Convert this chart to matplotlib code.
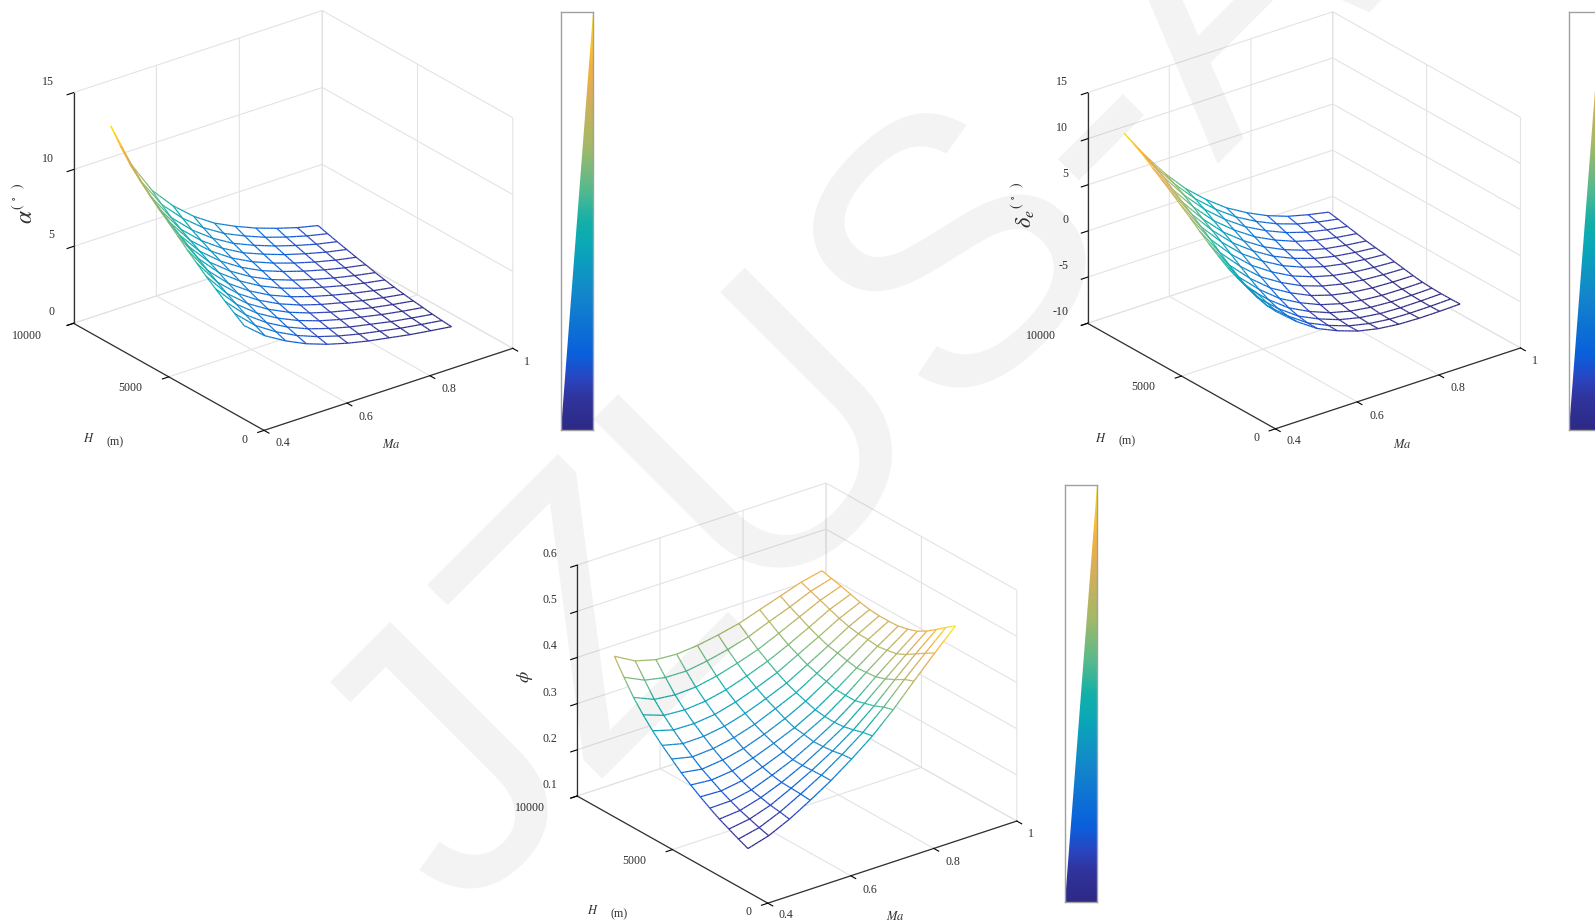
import numpy as np
import matplotlib
matplotlib.use("Agg")
from matplotlib import pyplot as plt
from matplotlib.colors import LinearSegmentedColormap, Normalize
from matplotlib.patches import Polygon
from mpl_toolkits.mplot3d.art3d import Line3DCollection
from mpl_toolkits.mplot3d import proj3d

plt.rcParams['font.family'] = ['Liberation Serif', 'DejaVu Serif']
plt.rcParams['mathtext.fontset'] = 'stix'

W, H_PX = 1595, 923

Ma = [0.49, 0.54, 0.59, 0.64, 0.69, 0.74, 0.79, 0.84, 0.89, 0.94, 0.99]
H = [3000, 3500, 4000, 4500, 5000, 5500, 6000, 6500, 7000, 7500, 8000, 8500, 9000, 9500, 10000]

# rows: H, columns: Ma
alpha = [
    [3.92, 2.82, 2.04, 1.41, 0.93, 0.56, 0.26, 0.02, -0.22, -0.41, -0.59],
    [4.36, 3.14, 2.28, 1.60, 1.08, 0.68, 0.36, 0.10, -0.15, -0.35, -0.54],
    [4.80, 3.48, 2.53, 1.80, 1.24, 0.82, 0.47, 0.20, -0.07, -0.28, -0.48],
    [5.27, 3.83, 2.80, 2.03, 1.43, 0.97, 0.61, 0.32, 0.04, -0.19, -0.39],
    [5.74, 4.18, 3.08, 2.26, 1.62, 1.13, 0.74, 0.43, 0.14, -0.10, -0.31],
    [6.26, 4.57, 3.38, 2.50, 1.82, 1.30, 0.89, 0.56, 0.25, 0.00, -0.22],
    [6.78, 4.97, 3.69, 2.76, 2.04, 1.49, 1.06, 0.70, 0.38, 0.11, -0.12],
    [7.34, 5.41, 4.04, 3.06, 2.29, 1.70, 1.25, 0.87, 0.53, 0.25, 0.01],
    [7.89, 5.84, 4.38, 3.35, 2.54, 1.91, 1.43, 1.03, 0.68, 0.39, 0.14],
    [8.41, 6.26, 4.73, 3.65, 2.80, 2.14, 1.64, 1.22, 0.86, 0.55, 0.30],
    [9.00, 6.72, 5.09, 3.95, 3.06, 2.37, 1.84, 1.40, 1.02, 0.70, 0.44],
    [9.60, 7.19, 5.47, 4.28, 3.35, 2.61, 2.07, 1.60, 1.21, 0.87, 0.60],
    [10.25, 7.71, 5.88, 4.63, 3.65, 2.87, 2.30, 1.81, 1.40, 1.04, 0.76],
    [11.08, 8.34, 6.38, 5.05, 3.99, 3.17, 2.56, 2.03, 1.60, 1.23, 0.93],
    [12.03, 9.06, 6.94, 5.51, 4.38, 3.49, 2.84, 2.28, 1.82, 1.42, 1.11],
]
delta_e = [
    [0.08, -2.77, -4.58, -6.06, -7.04, -7.80, -8.27, -8.52, -8.60, -8.58, -8.52],
    [0.19, -2.69, -4.52, -6.03, -7.03, -7.81, -8.29, -8.55, -8.63, -8.61, -8.55],
    [0.51, -2.40, -4.30, -5.86, -6.90, -7.71, -8.22, -8.51, -8.61, -8.60, -8.55],
    [1.02, -1.95, -3.92, -5.55, -6.66, -7.53, -8.08, -8.40, -8.54, -8.56, -8.52],
    [1.71, -1.30, -3.38, -5.09, -6.29, -7.23, -7.85, -8.22, -8.41, -8.46, -8.45],
    [2.46, -0.59, -2.74, -4.52, -5.79, -6.81, -7.49, -7.93, -8.17, -8.27, -8.30],
    [3.26, 0.20, -2.03, -3.89, -5.24, -6.32, -7.08, -7.59, -7.89, -8.04, -8.12],
    [4.13, 1.05, -1.28, -3.21, -4.66, -5.83, -6.65, -7.24, -7.61, -7.82, -7.94],
    [4.92, 1.84, -0.54, -2.54, -4.05, -5.29, -6.19, -6.85, -7.28, -7.54, -7.72],
    [5.73, 2.64, 0.16, -1.92, -3.52, -4.84, -5.80, -6.53, -7.03, -7.34, -7.56],
    [6.51, 3.38, 0.83, -1.33, -3.00, -4.39, -5.43, -6.22, -6.78, -7.14, -7.40],
    [7.27, 4.15, 1.55, -0.67, -2.41, -3.87, -4.96, -5.83, -6.45, -6.87, -7.18],
    [8.06, 4.95, 2.27, 0.00, -1.82, -3.35, -4.51, -5.45, -6.14, -6.61, -6.97],
    [8.68, 5.59, 2.89, 0.58, -1.29, -2.86, -4.08, -5.07, -5.82, -6.34, -6.75],
    [9.26, 6.18, 3.44, 1.09, -0.82, -2.45, -3.71, -4.76, -5.56, -6.12, -6.57],
]
phi = [
    [0.122, 0.135, 0.156, 0.182, 0.210, 0.242, 0.277, 0.319, 0.366, 0.412, 0.456],
    [0.131, 0.141, 0.160, 0.184, 0.210, 0.240, 0.273, 0.313, 0.358, 0.400, 0.441],
    [0.141, 0.148, 0.163, 0.185, 0.209, 0.236, 0.267, 0.304, 0.346, 0.387, 0.425],
    [0.151, 0.155, 0.168, 0.186, 0.208, 0.234, 0.262, 0.298, 0.336, 0.374, 0.410],
    [0.163, 0.164, 0.173, 0.190, 0.209, 0.233, 0.260, 0.292, 0.329, 0.364, 0.398],
    [0.176, 0.174, 0.181, 0.196, 0.214, 0.237, 0.261, 0.292, 0.327, 0.360, 0.391],
    [0.190, 0.186, 0.191, 0.204, 0.221, 0.240, 0.264, 0.293, 0.325, 0.357, 0.386],
    [0.205, 0.198, 0.203, 0.213, 0.229, 0.248, 0.271, 0.299, 0.329, 0.360, 0.385],
    [0.223, 0.213, 0.216, 0.225, 0.239, 0.258, 0.278, 0.305, 0.334, 0.361, 0.385],
    [0.241, 0.230, 0.231, 0.238, 0.251, 0.268, 0.287, 0.312, 0.338, 0.365, 0.387],
    [0.261, 0.248, 0.247, 0.252, 0.264, 0.280, 0.298, 0.322, 0.346, 0.371, 0.391],
    [0.284, 0.268, 0.265, 0.269, 0.279, 0.294, 0.311, 0.332, 0.355, 0.379, 0.397],
    [0.310, 0.291, 0.286, 0.288, 0.297, 0.310, 0.325, 0.345, 0.366, 0.387, 0.403],
    [0.342, 0.321, 0.312, 0.311, 0.318, 0.328, 0.341, 0.359, 0.376, 0.395, 0.408],
    [0.376, 0.351, 0.339, 0.336, 0.340, 0.348, 0.358, 0.373, 0.388, 0.403, 0.413],
]

ma_ticks = [0.4, 0.6, 0.8, 1]
ma_labels = ['0.4', '0.6', '0.8', '1']
h_ticks = [0, 5000, 10000]
h_labels = ['0', '5000', '10000']
alpha_ticks = [0, 5, 10, 15]
delta_ticks = [-10, -5, 0, 5, 10, 15]
phi_ticks = [0.1, 0.2, 0.3, 0.4, 0.5, 0.6]

# pixel offsets of the tick labels from their ticks
ma_offsets = [(18, 12), (19, 14), (19, 13), (14, 13)]
h_offsets = [(-19, 9), (-38, 11), (-46, 12)]
TICK_SIZE = 8.6
DARK = '#303030'

parula = LinearSegmentedColormap.from_list('parula_like', [
    (0.00, '#2e2a85'), (0.08, '#30359f'), (0.12, '#2a45c0'), (0.18, '#0a60dc'),
    (0.32, '#1385cc'), (0.44, '#0aa8b8'), (0.50, '#14b0a8'), (0.57, '#50b990'),
    (0.68, '#a3b968'), (0.80, '#d8ae58'), (0.87, '#f4b03c'), (0.93, '#ffc525'),
    (1.00, '#fde910')])


def box(x, y, w, h):
    # pixel box (top-left origin) to figure fractions
    return [x / W, 1 - (y + h) / H_PX, w / W, h / H_PX]


def px_text(x, y, s, **kw):
    kw.setdefault('fontsize', TICK_SIZE)
    kw.setdefault('color', DARK)
    kw.setdefault('ha', 'center')
    kw.setdefault('va', 'center')
    fig.text(x / W, 1 - y / H_PX, s, **kw)


def to_px(ax, x, y, z):
    xp, yp, _ = proj3d.proj_transform(x, y, z, ax.get_proj())
    return ax.transData.transform((xp, yp))


def panel(z_vals, zlim, zticks, zlabels, left, right, z_aspect=255.6):
    ax = fig.add_axes([0, 0, 800 / W, 800 / H_PX], projection='3d', computed_zorder=False)
    ax.patch.set_visible(False)
    ax.set_proj_type('ortho')
    ax.view_init(elev=25.5, azim=-127.46)
    ax.set_box_aspect((313.4, 313.4, z_aspect))
    ax.set_xlim(0.4, 1, view_margin=0)
    ax.set_ylim(0, 10000, view_margin=0)
    ax.set_zlim(zlim[0], zlim[1], view_margin=0)

    # move the axes until the floor corners land where they belong
    ax.apply_aspect()
    p_left = to_px(ax, 0.4, 10000, zlim[0])
    p_right = to_px(ax, 1, 0, zlim[0])
    side = 800 * (right[0] - left[0]) / (p_right[0] - p_left[0])
    ax.set_position([0, 0, side / W, side / H_PX])
    ax.apply_aspect()
    p_left = to_px(ax, 0.4, 10000, zlim[0])
    x0 = left[0] - p_left[0]
    y0 = (H_PX - left[1]) - p_left[1]
    ax.set_position([x0 / W, y0 / H_PX, side / W, side / H_PX])
    ax.apply_aspect()

    X, Y = np.meshgrid(Ma, H)
    Z = np.array(z_vals)
    ax.plot_surface(X, Y, Z, color='white', shade=False, linewidth=0, rstride=1, cstride=1, zorder=1)

    # short pieces per cell edge so that colour runs along the line, as a mesh does
    segs, cols = [], []
    fr = np.linspace(0, 1, 7)
    def edge(a, b):
        pts = [tuple(np.array(a) + f * (np.array(b) - np.array(a))) for f in fr]
        for p, q in zip(pts[:-1], pts[1:]):
            segs.append([p, q])
            cols.append((p[2] + q[2]) / 2)
    for i in range(len(H)):
        for j in range(len(Ma)):
            if j + 1 < len(Ma):
                edge((Ma[j], H[i], Z[i, j]), (Ma[j + 1], H[i], Z[i, j + 1]))
            if i + 1 < len(H):
                edge((Ma[j], H[i], Z[i, j]), (Ma[j], H[i + 1], Z[i + 1, j]))
    mesh = Line3DCollection(segs, cmap=parula, norm=Normalize(Z.min(), Z.max()), linewidths=0.9, zorder=2)
    mesh.set_array(np.array(cols))
    ax.add_collection3d(mesh)

    ax.set_xticks(ma_ticks)
    ax.set_xticklabels([])
    ax.set_yticks(h_ticks)
    ax.set_yticklabels([])
    ax.set_zticks(zticks)
    ax.set_zticklabels([])
    ax.zaxis.set_ticks_position('upper')
    for axis in (ax.xaxis, ax.yaxis, ax.zaxis):
        axis.set_pane_color((1, 1, 1, 0))
        axis.pane.set_edgecolor('#d9d9d9')
        axis.pane.set_linewidth(0.8)
        axis._axinfo['grid'].update(color='#e3e3e3', linewidth=0.8)
        axis._axinfo['tick'].update(inward_factor=0.32, outward_factor=0, linewidth={True: 0.8, False: 0.8}, color=DARK)
        axis._axinfo['axisline'].update(color=DARK, linewidth=0.9)
        axis.line.set_color(DARK)
        axis.line.set_linewidth(0.9)

    for t, s, off in zip(ma_ticks, ma_labels, ma_offsets):
        p = to_px(ax, t, 0, zlim[0])
        px_text(p[0] + off[0] * 1.017, H_PX - p[1] + off[1] * 1.017, s)
    for t, s, off in zip(h_ticks, h_labels, h_offsets):
        p = to_px(ax, 0.4, t, zlim[0])
        px_text(p[0] + off[0] * 1.017, H_PX - p[1] + off[1] * 1.017, s)
    for t, s in zip(zticks, zlabels):
        p = to_px(ax, 0.4, 10000, t)
        px_text(p[0] - 19.5, H_PX - p[1] - 11, s, ha='right')


def axis_names(h_xy, ma_xy):
    px_text(h_xy[0], h_xy[1], '$\\mathit{H}$', fontsize=9)
    px_text(h_xy[0] + 26, h_xy[1] + 3, '(m)', fontsize=8.6)
    px_text(ma_xy[0], ma_xy[1], '$\\mathit{Ma}$', fontsize=9)


def color_strip(x, y, w, h):
    ax = fig.add_axes(box(x, y, w, h))
    im = ax.imshow(np.linspace(1, 0, 256)[:, None], cmap=parula, aspect='auto', extent=(0, 1, 0, 1))
    tri = Polygon([(0, 0), (1, 0), (1, 1)], transform=ax.transData)
    im.set_clip_path(tri)
    ax.set_xticks([])
    ax.set_yticks([])
    for s in ax.spines.values():
        s.set_color('#a0a0a0')
        s.set_linewidth(1.0)


fig = plt.figure(figsize=(W / 100, H_PX / 100), dpi=100)

panel(alpha, (0, 15), alpha_ticks, ['0', '5', '10', '15'], (73.5, 323.3), (512.8, 349))
panel(delta_e, (-10, 15), delta_ticks, ['-10', '-5', '0', '5', '10', '15'], (1087.6, 323.3), (1520.5, 349), z_aspect=259.4)
panel(phi, (0.1, 0.6), phi_ticks, ['0.1', '0.2', '0.3', '0.4', '0.5', '0.6'], (577.1, 796), (1016.8, 820))

axis_names((89, 439), (391, 445))
axis_names((1101, 438), (1402, 445))
axis_names((593, 911), (895, 917))

px_text(26.5, 217, '$\\alpha$', rotation=90, fontsize=17)
px_text(18.5, 196, '$(\\ ^\\circ\\ \\ )$', rotation=90, fontsize=10)
px_text(1025, 219, '$\\delta_e$', rotation=90, fontsize=16)
px_text(1017, 195, '$(\\ ^\\circ\\ \\ )$', rotation=90, fontsize=10)
px_text(525, 677, '$\\phi$', rotation=90, fontsize=13)

color_strip(560.8, 12.5, 32.5, 417.5)
color_strip(1568.7, 12.5, 32.5, 417.5)
color_strip(1064.8, 485, 32.5, 417)

# watermark lies over everything, multiply-like
fig.text(857 / W, 1 - 379 / H_PX, 'JZUS-A', fontsize=272, family='Liberation Sans', color='black',
         alpha=0.05, rotation=45, ha='center', va='center', rotation_mode='anchor', zorder=10)

fig.savefig('out.png', dpi=100)
